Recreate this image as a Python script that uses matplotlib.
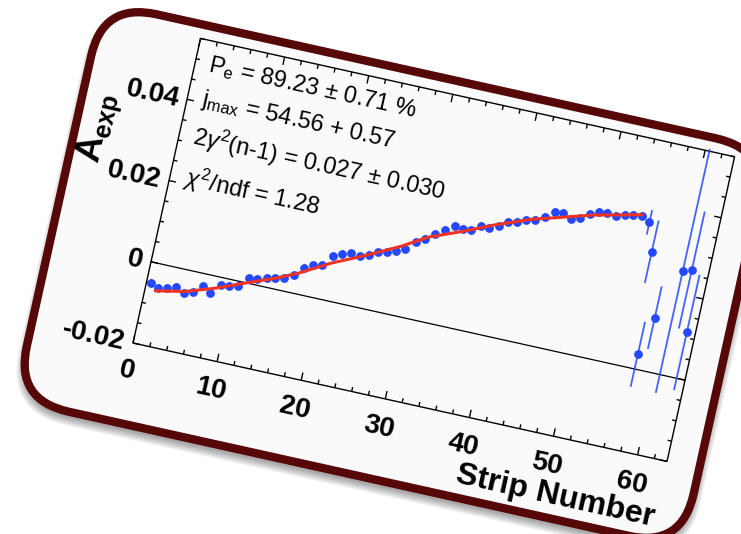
import numpy as np
import matplotlib
matplotlib.use('Agg')
import matplotlib.pyplot as plt
from matplotlib.transforms import Affine2D
from matplotlib.patches import FancyBboxPatch, Rectangle
from matplotlib.collections import LineCollection

# ---- data ----
strip = np.arange(0.5, 55.0, 1.0)
asym = [-0.0049, -0.0057, -0.0053, -0.0046, -0.0056, -0.0050, -0.0031, -0.0042,
        -0.0019, -0.0016, -0.0011, 0.0012, 0.0015, 0.0022, 0.0026, 0.0032,
        0.0042, 0.0066, 0.0076, 0.0082, 0.0108, 0.0118, 0.0124, 0.0121,
        0.0128, 0.0140, 0.0146, 0.0152, 0.0163, 0.0184, 0.0197, 0.0213,
        0.0228, 0.0242, 0.0240, 0.0240, 0.0255, 0.0256, 0.0265, 0.0279,
        0.0285, 0.0293, 0.0299, 0.0310, 0.0326, 0.0330, 0.0320, 0.0326,
        0.0340, 0.0350, 0.0353, 0.0350, 0.0356, 0.0360, 0.0363]
asym_err = 0.0009

tail_strip = [55.5, 56.5, 57.5, 58.5, 60.5, 61.5, 62.5]
tail_asym = [0.0352, 0.0284, 0.0036, 0.0131, 0.0255, 0.0262, 0.0113]
tail_err = [0.0030, 0.0077, 0.0080, 0.0077, 0.0300, 0.0144, 0.0142]

fit_strip = [1.2, 4.6, 7.9, 11.2, 14.5, 17.0, 20.5, 24.1, 28.0, 30.8, 34.5,
             38.1, 42.1, 45.1, 48.8, 52.6, 54.5]
fit_asym = [-0.0066, -0.0052, -0.0029, -0.0001, 0.0026, 0.0050, 0.0091, 0.0126,
            0.0167, 0.0202, 0.0233, 0.0266, 0.0298, 0.0316, 0.0339, 0.0357, 0.0366]

x_ticks = [0, 10, 20, 30, 40, 50, 60]
y_ticks = [-0.02, 0.0, 0.02, 0.04]
y_tick_labels = ['-0.02', '0', '0.02', '0.04']
stats_lines = [r'P$_{\rm e}$ = 89.23 $\pm$ 0.71 %',
               r'j$_{\rm max}$ = 54.56 + 0.57',
               r'2$\gamma^{2}$(n-1) = 0.027 $\pm$ 0.030',
               r'$\chi^{2}$/ndf = 1.28']

# ---- geometry of the tilted panel (pixels) ----
XMIN, XMAX = 0.0, 63.5
YMIN, YMAX = -0.02, 0.055
AX_W, AX_H = 547.0, 312.0
ANGLE = 12.5
ORIGIN = (133.0, 343.0)

plt.rcParams['mathtext.fontset'] = 'custom'
plt.rcParams['mathtext.rm'] = 'Liberation Sans'
plt.rcParams['mathtext.it'] = 'Liberation Sans:italic'
plt.rcParams['mathtext.bf'] = 'Liberation Sans:bold'
plt.rcParams['font.family'] = ['Liberation Sans', 'DejaVu Sans']

fig = plt.figure(figsize=(7.41, 5.34), dpi=100)
ax = fig.add_axes([0, 0, 1, 1])
ax.set_xlim(0, 741)
ax.set_ylim(534, 0)
ax.set_autoscale_on(False)
ax.axis('off')

th = np.deg2rad(ANGLE)
c, sn = np.cos(th), np.sin(th)
loc = Affine2D(np.array([[c, sn, ORIGIN[0]],
                         [sn, -c, ORIGIN[1]],
                         [0, 0, 1]])) + ax.transData
KX = AX_W / (XMAX - XMIN)
KY = AX_H / (YMAX - YMIN)
chart = Affine2D().translate(-XMIN, -YMIN).scale(KX, KY) + loc

# shadow + rounded frame
bx, by, bw, bh = -103, -81, 683, 407
for k in range(9):
    sh = FancyBboxPatch((bx + 1 - k, by - 6 - k), bw + 2 * k, bh + 2 * k,
                        boxstyle='round,pad=0,rounding_size=%d' % (55 + k),
                        facecolor='black', edgecolor='none', alpha=0.045,
                        transform=loc, zorder=1)
    ax.add_patch(sh)
frame = FancyBboxPatch((bx, by), bw, bh, boxstyle='round,pad=0,rounding_size=55',
                       facecolor='#fafafa', edgecolor='#560707', linewidth=6,
                       transform=loc, zorder=2)
ax.add_patch(frame)

# axes box
ax.add_patch(Rectangle((0, 0), AX_W, AX_H, fill=False, edgecolor='black',
                       linewidth=1.0, transform=loc, zorder=4))
clip = Rectangle((0, 0), AX_W, AX_H, transform=loc)

# ticks (inside, on all four sides)
segs = []
for v in np.arange(0, XMAX, 2):
    s = (v - XMIN) * KX
    ln = 8 if v % 10 == 0 else 4.5
    segs += [[(s, 0), (s, ln)], [(s, AX_H), (s, AX_H - ln)]]
for v in np.arange(-0.02, 0.0551, 0.005):
    t = (v - YMIN) * KY
    ln = 7 if abs(round(v / 0.02) * 0.02 - v) < 1e-6 else 4
    segs += [[(0, t), (ln, t)], [(AX_W, t), (AX_W - ln, t)]]
ax.add_collection(LineCollection(segs, colors='black', linewidths=1.0,
                                 transform=loc, zorder=4))

# zero line
ax.plot([XMIN, XMAX], [0, 0], color='black', lw=0.9, transform=chart, zorder=3)

# data error bars
bars = [[(x, y - asym_err), (x, y + asym_err)] for x, y in zip(strip, asym)]
bars += [[(x, y - e), (x, y + e)] for x, y, e in zip(tail_strip, tail_asym, tail_err)]
lc = LineCollection(bars, colors='#2448ff', linewidths=1.3, alpha=0.85,
                    transform=chart, zorder=5)
lc.set_clip_path(clip)
ax.add_collection(lc)

pts, = ax.plot(list(strip) + tail_strip, asym + tail_asym, 'o', color='#2448ff',
               markersize=6.3, markeredgewidth=0, transform=chart, zorder=5)
pts.set_clip_path(clip)

# fit curve
ax.plot(fit_strip, fit_asym, color='#ee3322', lw=2.2, transform=chart, zorder=6,
        solid_capstyle='round')

# tick labels
for v in x_ticks:
    ax.text((v - XMIN) * KX, -29, str(v), transform=loc, rotation=-ANGLE,
            rotation_mode='anchor', ha='center', va='center', fontsize=20,
            fontweight='bold', zorder=7)
for v, lab in zip(y_ticks, y_tick_labels):
    ax.text(-8, (v - YMIN) * KY - 2, lab, transform=loc, rotation=-ANGLE,
            rotation_mode='anchor', ha='right', va='center', fontsize=20,
            fontweight='bold', zorder=7)

# axis titles
ax.text(AX_W, -58, 'Strip Number', transform=loc, rotation=-ANGLE,
        rotation_mode='anchor', ha='right', va='center', fontsize=23,
        fontweight='bold', zorder=7)
ax.text(-73, 238, r'$\mathbf{A_{exp}}$', transform=loc, rotation=90 - ANGLE,
        rotation_mode='anchor', ha='right', va='baseline', fontsize=26, zorder=7)

# fit statistics
for line, base in zip(stats_lines, [281, 247, 207, 165]):
    ax.text(14, base, line, transform=loc, rotation=-ANGLE,
            rotation_mode='anchor', ha='left', va='baseline', fontsize=17,
            zorder=7)

fig.savefig('out.png', dpi=100)
